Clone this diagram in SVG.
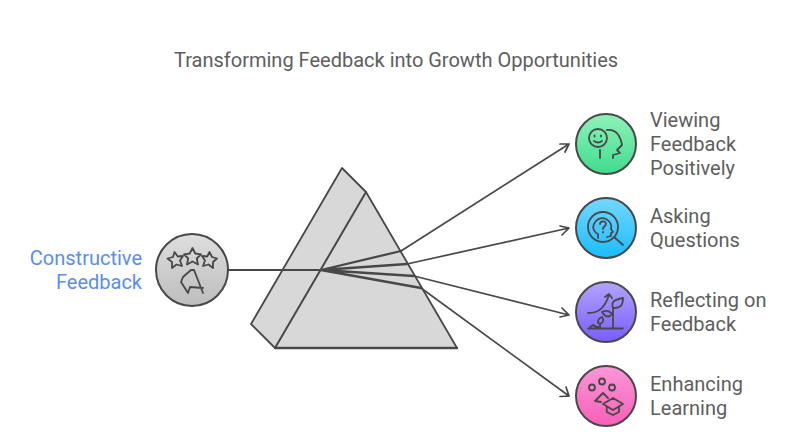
<svg xmlns="http://www.w3.org/2000/svg" width="804" height="438" viewBox="0 0 804 438">
<style>
text{font-family:Roboto,"Liberation Sans",sans-serif;font-size:20px;fill:#5e5e5e}
.c{stroke:#484848;stroke-width:1.700;fill:none;stroke-linecap:round;stroke-linejoin:round}
.t{stroke:#484848;stroke-width:2.300;fill:none;stroke-linecap:round}
.i{stroke:#484848;stroke-width:1.800;fill:none;stroke-linecap:round;stroke-linejoin:round}
</style>
<defs>
<linearGradient id="g0" x1="0" y1="0" x2="0" y2="1"><stop offset="0" stop-color="#dedede"/><stop offset="1" stop-color="#bdbdbd"/></linearGradient>
<linearGradient id="g1" x1="0" y1="0" x2="0" y2="1"><stop offset="0" stop-color="#8ff2b8"/><stop offset="1" stop-color="#3fdc8e"/></linearGradient>
<linearGradient id="g2" x1="0" y1="0" x2="0" y2="1"><stop offset="0" stop-color="#75d7ff"/><stop offset="1" stop-color="#19bdff"/></linearGradient>
<linearGradient id="g3" x1="0" y1="0" x2="0" y2="1"><stop offset="0" stop-color="#b3a4ff"/><stop offset="1" stop-color="#7a5cff"/></linearGradient>
<linearGradient id="g4" x1="0" y1="0" x2="0" y2="1"><stop offset="0" stop-color="#fb97d8"/><stop offset="1" stop-color="#f95fb8"/></linearGradient>
</defs>
<text x="174" y="66.500">Transforming Feedback into Growth Opportunities</text>
<g id="prism">
<path d="M342 168L366 192L457 348H275L251 324Z" fill="#d8d8d8" stroke="#484848" stroke-width="1.800" stroke-linejoin="round"/>
<path d="M366 192L275 348" class="c" style="stroke-width:2"/>
<path d="M275 348H457" class="c" style="stroke-width:2.400"/>
</g>
<g id="connectors">
<path d="M228 270H321" class="c" style="stroke-width:2"/>
<path d="M321 270L401 251M321 270L407 264M321 270L414 276M321 270L421 288" class="t"/>
<path d="M401 251L569 144M560 144L569 144L565 152" class="c"/>
<path d="M407 264L569 228M560 226L569 228L562 235" class="c"/>
<path d="M414 276L569 315M562 308L569 315L560 317" class="c"/>
<path d="M421 288L569 396M566 387L569 396L560 396.500" class="c"/>
</g>
<g id="node-feedback">
<circle cx="192" cy="270" r="36" fill="url(#g0)" stroke="#484848" stroke-width="2"/>
<path class="i" d="M192.500 248L195.200 253.500L201 254.300L196.800 258.500L198 264.500L192.500 261.500L187 264.500L188.200 258.500L184 254.300L189.800 253.500Z"/>
<path class="i" d="M174.500 252L177.800 256.500L183 256L180 260.500L182 266L176.500 264.500L172 268L172 262L167.500 258.500L173 257Z"/>
<path class="i" d="M209.500 252L212 257L217 258.500L213 262L213 268L208.500 264.500L203 266L205 260.500L202 256L207.200 256.500Z"/>
<path class="i" d="M203 293L194 270H191L183 277L181 282L188 293L190 287L203 288"/>
</g>
<text x="142" y="265" text-anchor="end" style="fill:#5b8def">Constructive</text>
<text x="142" y="289" text-anchor="end" style="fill:#5b8def">Feedback</text>
<g id="node-viewing">
<circle cx="606" cy="144" r="30" fill="url(#g1)" stroke="#484848" stroke-width="2"/>
<circle cx="598" cy="138" r="9" class="i"/>
<path class="i" d="M594.500 135.500v1M601 135.500v1M594 141q4 3 8 0M600 150v8M607 130c8-1 13 4 15 15L617 150L620 153L613 155V158"/>
</g>
<g id="node-asking">
<circle cx="606" cy="228" r="30" fill="url(#g2)" stroke="#484848" stroke-width="2"/>
<circle cx="603" cy="227" r="15" class="i"/>
<path class="i" d="M614 237l9 8M598 238v-4c-4-2-6-6-4-10c2-5 7-7 12-5c4 2 6 6 5 10l2 3l-2 1v3l-4 1M600 224c0-3 6-4 6 0c0 2-3 2-3 5M603 232v.5"/>
</g>
<g id="node-reflecting">
<circle cx="606" cy="312" r="30" fill="url(#g3)" stroke="#484848" stroke-width="2"/>
<path class="i" d="M588 328.500h35M588 313c9 0 16-3 21-18M605 297l4-3l3 4M613 328v-20M613 308c-2-7 1-8 10-10c0 7-2 10-10 10M612 314c-3 4-7 3-10-2c4-2 7-2 10 2M600 328v-4M600 324c-3-1-3-5 2-7c2 3 2 5-2 7M600 327c-2 0-5 0-7-2M590 327l3-2"/>
</g>
<g id="node-enhancing">
<circle cx="606" cy="396" r="30" fill="url(#g4)" stroke="#484848" stroke-width="2"/>
<circle cx="592" cy="387.500" r="3" class="i"/><circle cx="602" cy="381.500" r="3" class="i"/><circle cx="612" cy="387.500" r="3" class="i"/>
<path class="i" d="M608 398l-5-5l-8 8l6 1M603 404l10-6l10 6l-10 6zM606.700 407v5l6.300 3l6-3v-5"/>
</g>
<text x="650" y="127">Viewing</text><text x="650" y="151">Feedback</text><text x="650" y="175">Positively</text>
<text x="650" y="223">Asking</text><text x="650" y="247">Questions</text>
<text x="650" y="307">Reflecting on</text><text x="650" y="331">Feedback</text>
<text x="650" y="391">Enhancing</text><text x="650" y="415">Learning</text>
</svg>
